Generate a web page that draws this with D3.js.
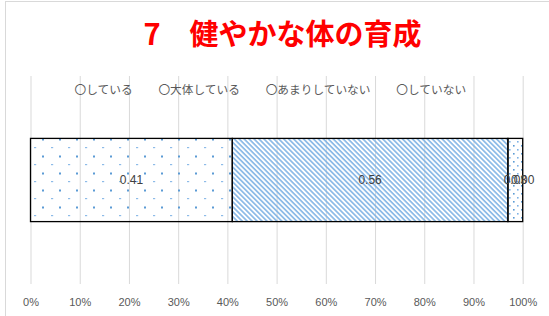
<!DOCTYPE html>
<html>
  <head>
    <meta charset="utf-8">
    <title>健やかな体の育成</title>
    <script src="https://d3js.org/d3.v7.min.js"></script>
    <style>
      body { margin: 0; background: #fff; }
      svg { display: block; }
      .jp { font-family: "Noto Sans CJK JP", sans-serif; }
      .num { font-family: "Liberation Sans", Arial, sans-serif; }
    </style>
  </head>
  <body>
    <svg id="chart" width="549" height="316">
      <defs>
        <!-- excel-like pattern fills -->
        <pattern id="dots" width="17" height="17" patternUnits="userSpaceOnUse">
          <rect x="8" y="2.5" width="2" height="2" fill="#5b9bd5"/>
          <rect x="0" y="11" width="2.2" height="1.2" fill="#8dbbe8"/>
        </pattern>
        <pattern id="diag" width="3.5" height="3.5" patternUnits="userSpaceOnUse" patternTransform="rotate(-45)">
          <line x1="0.9" y1="0" x2="0.9" y2="3.5" stroke="#7cb1e4" stroke-width="1.5"/>
        </pattern>
        <pattern id="dense" width="8" height="8" patternUnits="userSpaceOnUse">
          <rect x="1" y="1" width="1.6" height="1.6" fill="#5b9bd5"/>
          <rect x="5" y="5" width="1.6" height="1.6" fill="#7fb2e5"/>
        </pattern>
      </defs>
    </svg>
    <script>
      // chart data
      const title = "7\u3000健やかな体の育成";
      const categories = ["健やかな体の育成"];
      const seriesNames = ["〇している", "〇大体している", "〇あまりしていない", "〇していない"];
      const seriesValues = [0.41, 0.56, 0.03, 0.00];
      const seriesFills = ["url(#dots)", "url(#diag)", "url(#dense)", "url(#dense)"];
      const tickValues = [0, 0.1, 0.2, 0.3, 0.4, 0.5, 0.6, 0.7, 0.8, 0.9, 1];

      // name page elements
      chart = d3.select("#chart");
      margin = { top: 76, right: 26.3, bottom: 32, left: 30.5 };
      width = 549;
      height = 316;

      // chart frame
      chart.append("rect")
        .attr("x", 5.5)
        .attr("y", 1.5)
        .attr("width", 600)
        .attr("height", 400)
        .attr("fill", "#fff")
        .attr("stroke", "#d9d9d9");

      // scales
      x = d3.scaleLinear()
        .domain([0, 1])
        .range([margin.left, width - margin.right]);
      y = d3.scaleBand()
        .domain(categories)
        .range([margin.top, height - margin.bottom])
        .paddingOuter(0.75)
        .paddingInner(0);

      // gridlines and tick labels
      xAxis = d3.axisBottom(x)
        .tickValues(tickValues)
        .tickFormat(d3.format(".0%"))
        .tickSize(-(height - margin.bottom - margin.top));
      xAxisGroup = chart.append("g")
        .attr("transform", "translate(0, " + (height - margin.bottom) + ")")
        .call(xAxis);
      xAxisGroup.select(".domain").remove();
      xAxisGroup.selectAll("line")
        .attr("stroke", "#d9d9d9");
      xAxisGroup.selectAll("text")
        .attr("class", "num")
        .attr("y", 18)
        .attr("dy", null)
        .attr("dominant-baseline", "central")
        .style("fill", "#595959")
        .style("font-size", "11px");

      // stack the segments
      ends = d3.cumsum(seriesValues);
      segments = seriesValues.map(function(v, i) {
        return { name: seriesNames[i], value: v, x0: ends[i] - v, x1: ends[i], fill: seriesFills[i] };
      });

      barGroup = chart.append("g");
      barGroup.selectAll("rect")
        .data(segments)
        .enter().append("rect")
          .attr("x", function(d) { return x(d.x0); })
          .attr("width", function(d) { return x(d.x1) - x(d.x0); })
          .attr("y", y(categories[0]))
          .attr("height", y.bandwidth())
          .attr("fill", function(d) { return d.fill; })
          .attr("stroke", "#000")
          .attr("stroke-width", 1.3);

      // data labels
      barGroup.selectAll("text")
        .data(segments)
        .enter().append("text")
          .attr("class", "num")
          .attr("x", function(d) { return x((d.x0 + d.x1) / 2); })
          .attr("y", y(categories[0]) + y.bandwidth() / 2)
          .attr("text-anchor", "middle")
          .attr("dominant-baseline", "central")
          .style("fill", "#404040")
          .style("font-size", "12px")
          .text(function(d) { return d3.format(".2f")(d.value); });

      // legend
      legend = chart.append("g");
      items = legend.selectAll("text")
        .data(seriesNames)
        .enter().append("text")
          .attr("class", "jp")
          .attr("y", 88.3)
          .attr("dominant-baseline", "central")
          .style("fill", "#595959")
          .style("font-size", "11.7px")
          .text(function(d) { return d; });
      gap = 25.8;
      pos = 74.5;
      items.each(function() {
        d3.select(this).attr("x", pos);
        pos += this.getComputedTextLength() + gap;
      });

      // title
      chart.append("text")
        .attr("class", "jp")
        .attr("x", 282.5)
        .attr("y", 44.5)
        .attr("text-anchor", "middle")
        .style("fill", "#ff0000")
        .style("font-size", "29px")
        .style("font-weight", 700)
        .text(title);
    </script>
  </body>
</html>
